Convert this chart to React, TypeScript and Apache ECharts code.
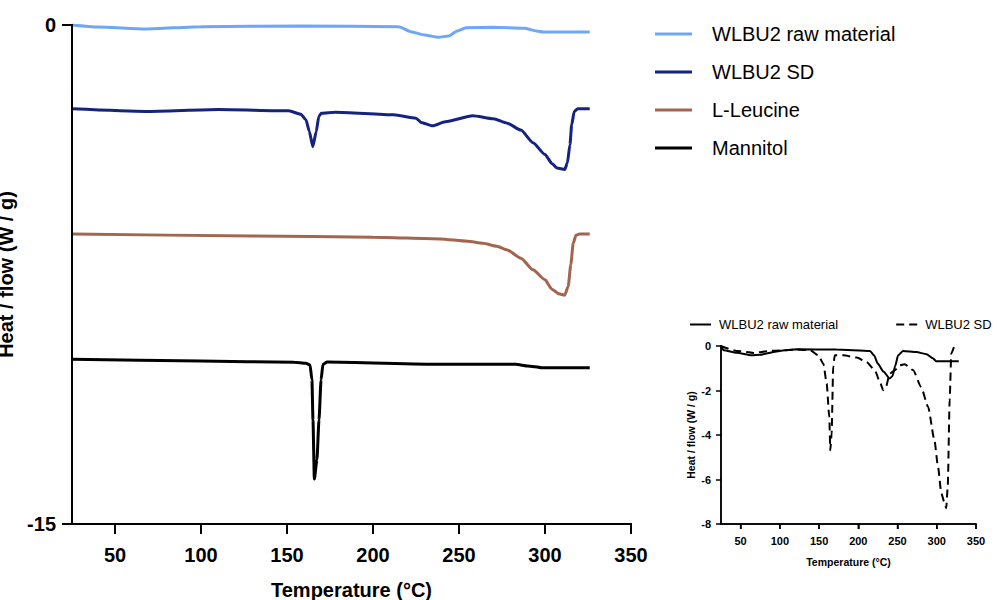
import React, { useEffect, useRef } from 'react';
import * as echarts from 'echarts';

// Main chart curves: [temperature °C, heat flow W/g]
const rawMaterialMain = [[25,0],[40,-0.06],[68,-0.12],[100,-0.05],[159,-0.03],[215,-0.05],[222,-0.2],[230,-0.3],[238,-0.37],[244,-0.33],[249,-0.18],[254,-0.08],[270,-0.07],[288,-0.1],[295,-0.18],[299,-0.21],[326,-0.21]];
const sdMain = [[25,-2.52],[68,-2.6],[110,-2.54],[151,-2.58],[158,-2.68],[161,-2.85],[163,-3.2],[165,-3.66],[167,-3.2],[168.5,-2.75],[170,-2.65],[178,-2.62],[212,-2.7],[225,-2.8],[228,-2.93],[234.6,-3.03],[242,-2.91],[258,-2.73],[270,-2.82],[278,-2.95],[286,-3.16],[293,-3.54],[300,-3.89],[304,-4.16],[307,-4.3],[311.5,-4.34],[313,-4.15],[314.5,-3.6],[315.5,-3.0],[317,-2.6],[319,-2.52],[326,-2.52]];
const leucineMain = [[25,-6.28],[130,-6.34],[200,-6.38],[239,-6.43],[255,-6.5],[264,-6.56],[272,-6.65],[278,-6.76],[286,-7.01],[293,-7.36],[300,-7.66],[304,-7.94],[308,-8.08],[311.5,-8.12],[313.5,-7.85],[315,-7.2],[316.4,-6.56],[318,-6.32],[320,-6.28],[326,-6.28]];
const mannitolMain = [[25,-10.05],[100,-10.1],[154,-10.14],[161,-10.17],[163.4,-10.22],[164.5,-10.67],[165.1,-11.87],[165.9,-13.65],[167.4,-13.07],[168.6,-11.87],[169.8,-10.67],[170.9,-10.2],[173.3,-10.13],[239.5,-10.2],[283,-10.2],[290,-10.25],[298,-10.3],[326,-10.3]];

// Inset curves
const rawMaterialInset = [[25,0],[28.4,-0.19],[45,-0.3],[64,-0.42],[75,-0.39],[100,-0.22],[121.6,-0.15],[172,-0.16],[215,-0.22],[220,-0.42],[225,-0.8],[232,-1.15],[240,-1.46],[243.5,-1.36],[247,-0.9],[250.7,-0.42],[257,-0.22],[274,-0.27],[287,-0.37],[295,-0.55],[299.5,-0.69],[328,-0.69]];
const sdInset = [[25,0],[45,-0.22],[66.5,-0.31],[87.7,-0.22],[121.6,-0.16],[138.5,-0.19],[149,-0.42],[155.5,-0.8],[159.7,-1.69],[163,-3.18],[164.3,-4.68],[166,-3.93],[168,-0.94],[170,-0.42],[181,-0.42],[198,-0.52],[210.5,-0.72],[221,-1.09],[227.5,-1.61],[231.7,-1.99],[235,-1.87],[240,-1.24],[246.5,-1.09],[253,-0.87],[259,-0.82],[270,-1.09],[280,-1.84],[289,-2.74],[297,-4.23],[301.6,-5.43],[305.8,-6.62],[310,-7.07],[312,-7.29],[314,-6.32],[316.4,-2.44],[318.5,-0.34],[322.8,0],[327.4,0]];

const mainNames = ['WLBU2 raw material', 'WLBU2 SD', 'L-Leucine', 'Mannitol'];
const mainColors = ['#70a7f5', '#14237f', '#a3654f', '#000000'];
const insetNames = ['WLBU2 raw material', 'WLBU2 SD'];
const insetKeys = ['WLBU2 raw material (inset)', 'WLBU2 SD (inset)'];
const xTicks = [50, 100, 150, 200, 250, 300, 350];
const mainYTicks = [0, -15];
const insetYTicks = [0, -2, -4, -6, -8];

const FONT = "'Liberation Sans', Arial, Helvetica, sans-serif";
const SOLID_ICON = 'path://M0,0H21V2H0Z';
const DASH_ICON = 'path://M0,0H8V2H0Z M13,0H21V2H13Z';

// L-shaped axis frame with outward tick marks, in the axes' data units
function axisFrame(xMin: number, yMin: number, yMax: number, xt: number[], yt: number[], dx: number, dy: number) {
  const pts: number[][] = [[xMin, yMax]];
  [...yt].sort((a, b) => b - a).forEach((v) => { pts.push([xMin, v], [xMin - dx, v], [xMin, v]); });
  pts.push([xMin, yMin]);
  [...xt].sort((a, b) => a - b).forEach((v) => { pts.push([v, yMin], [v, yMin - dy], [v, yMin]); });
  return pts;
}

export default function App() {
  const ref = useRef<HTMLDivElement>(null);
  useEffect(() => {
    const chart = echarts.init(ref.current!, null, { renderer: 'svg' });
    const mainData = [rawMaterialMain, sdMain, leucineMain, mannitolMain];
    const insetData = [rawMaterialInset, sdInset];
    const bold = (size: number) => ({ fontSize: size, fontWeight: 'bold', color: '#000', fontFamily: FONT });
    const line = (w: number) => ({ show: true, onZero: false, lineStyle: { color: '#000', width: w } });
    const tick = (len: number, w: number, vals?: number[]) => ({ show: true, length: len, ...(vals ? { customValues: vals } : {}), lineStyle: { color: '#000', width: w } });
    const option: any = {
      animation: false,
      backgroundColor: '#fff',
      textStyle: { fontFamily: FONT },
      grid: [
        { left: 72, top: 25, width: 559, height: 499, outerBoundsMode: 'none' },
        { left: 721, top: 346, width: 255, height: 178, outerBoundsMode: 'none' },
      ],
      legend: [
        {
          data: mainNames.map((name) => ({ name, icon: 'rect' })),
          orient: 'vertical',
          left: 650,
          top: 19,
          itemWidth: 37,
          itemHeight: 3,
          itemGap: 18,
          textStyle: { fontSize: 20, color: '#000', fontFamily: FONT, padding: [0, 0, 0, 15] },
        },
        {
          data: insetKeys.map((name, i) => ({ name, icon: i === 0 ? SOLID_ICON : DASH_ICON })),
          orient: 'horizontal',
          left: 685,
          top: 313,
          itemWidth: 21,
          itemHeight: 2,
          itemGap: 58,
          formatter: (n: string) => insetNames[insetKeys.indexOf(n)],
          textStyle: { fontSize: 13, color: '#000', fontFamily: FONT, padding: [0, 0, 0, 3] },
        },
      ],
      xAxis: [
        {
          type: 'value', gridIndex: 0, min: 25, max: 350, z: 10,
          axisLine: line(2), axisTick: tick(10, 2, xTicks),
          axisLabel: { customValues: xTicks, margin: 21, ...bold(20) },
          splitLine: { show: false },
          name: 'Temperature (°C)', nameLocation: 'middle', nameGap: 56,
          nameTextStyle: bold(20),
        },
        {
          type: 'value', gridIndex: 1, min: 25, max: 350, z: 10,
          axisLine: line(1.5), axisTick: tick(5, 1.5, xTicks),
          axisLabel: { customValues: xTicks, margin: 11, ...bold(11) },
          splitLine: { show: false },
          name: 'Temperature (°C)', nameLocation: 'middle', nameGap: 32,
          nameTextStyle: bold(10.5),
        },
      ],
      yAxis: [
        {
          type: 'value', gridIndex: 0, min: -15, max: 0, z: 10,
          axisLine: line(2), axisTick: tick(10, 2, mainYTicks),
          axisLabel: { customValues: mainYTicks, margin: 16, ...bold(20) },
          splitLine: { show: false },
          name: 'Heat / flow (W / g)', nameLocation: 'middle', nameGap: 18, nameRotate: 90,
          nameTextStyle: bold(20),
        },
        {
          type: 'value', gridIndex: 1, min: -8, max: 0, z: 10,
          axisLine: line(1.5), axisTick: tick(5, 1.5, insetYTicks),
          axisLabel: { customValues: insetYTicks, margin: 10, ...bold(11) },
          splitLine: { show: false },
          name: 'Heat / flow (W / g)', nameLocation: 'middle', nameGap: 25, nameRotate: 90,
          nameTextStyle: bold(10.5),
        },
      ],
      series: [
        ...mainNames.map((name, i) => ({
          name, type: 'line', xAxisIndex: 0, yAxisIndex: 0, data: mainData[i],
          symbol: 'none', smooth: 0.2, smoothMonotone: 'x', z: 3,
          lineStyle: { color: mainColors[i], width: 3 }, itemStyle: { color: mainColors[i] },
        })),
        ...insetKeys.map((name, i) => ({
          name, type: 'line', xAxisIndex: 1, yAxisIndex: 1, data: insetData[i],
          symbol: 'none', smooth: 0.2, smoothMonotone: 'x', z: 3,
          lineStyle: { color: '#000', width: 2, type: i === 1 ? [8, 5] : 'solid' }, itemStyle: { color: '#000' },
        })),
        {
          name: 'main axes', type: 'line', xAxisIndex: 0, yAxisIndex: 0, z: 10, silent: true, clip: false, symbol: 'none',
          data: axisFrame(25, -15, 0, xTicks, mainYTicks, 5.8, 0.3),
          lineStyle: { color: '#000', width: 2, join: 'miter', cap: 'butt' }, itemStyle: { color: '#000' },
        },
        {
          name: 'inset axes', type: 'line', xAxisIndex: 1, yAxisIndex: 1, z: 10, silent: true, clip: false, symbol: 'none',
          data: axisFrame(25, -8, 0, xTicks, insetYTicks, 6.4, 0.22),
          lineStyle: { color: '#000', width: 1.5, join: 'miter', cap: 'butt' }, itemStyle: { color: '#000' },
        },
      ],
    };
    chart.setOption(option);
    return () => chart.dispose();
  }, []);
  return <div ref={ref} style={{ position: 'fixed', left: 0, top: 0, width: 997, height: 600, background: '#fff' }} />;
}
